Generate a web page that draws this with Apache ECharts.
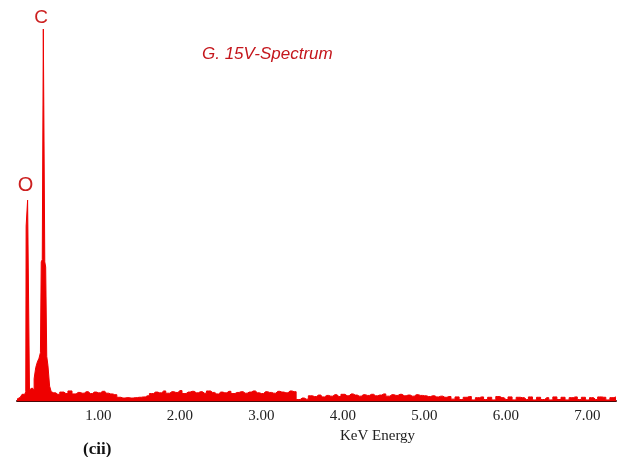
<!DOCTYPE html>
<html>
<head>
<meta charset="utf-8">
<script src="https://cdn.jsdelivr.net/npm/echarts@6/dist/echarts.min.js"></script>
<style>html,body{margin:0;padding:0;background:#fff;}#c{width:619px;height:457px;}</style>
</head>
<body>
<div id="c"></div>
<script>
// Peak region (keV, counts)
var peakEnergy = [0.00,0.04,0.085,0.105,0.110,0.114,0.128,0.132,0.150,0.156,0.17,0.20,0.22,0.24,0.26,0.28,0.295,0.300,0.32,0.326,0.338,0.344,0.36,0.37,0.39,0.41,0.43];
var peakCounts = [5,10,18,22,25,470,470,540,540,30,35,30,60,90,105,115,130,374,380,1000,1000,374,360,120,95,40,25];
// Background region (keV, counts)
var bgEnergy = [0.45,0.50,0.55,0.60,0.65,0.70,0.75,0.80,0.85,0.90,0.95,1.00,1.05,1.10,1.15,1.20,
  1.25,1.30,1.35,1.40,1.45,1.50,1.55,1.60,
  1.65,1.70,1.75,1.80,1.85,1.90,1.95,2.00,2.05,2.10,2.15,2.20,2.25,2.30,2.35,2.40,2.45,2.50,2.55,2.60,2.65,2.70,2.75,2.80,2.85,2.90,2.95,3.00,3.05,3.10,3.15,3.20,3.25,3.30,3.35,3.40,
  3.45,3.50,3.55,3.60,3.65,3.70,3.75,3.80,3.85,3.90,3.95,4.00,4.05,4.10,4.15,4.20,4.25,4.30,4.35,4.40,4.45,4.50,4.55,4.60,4.65,4.70,4.75,4.80,4.85,4.90,4.95,5.00,
  5.05,5.10,5.15,5.20,5.25,5.30,5.35,5.40,5.45,5.50,5.55,5.60,5.65,5.70,5.75,5.80,5.85,5.90,5.95,6.00,6.05,6.10,6.15,6.20,6.25,6.30,6.35,6.40,6.45,6.50,6.55,6.60,6.65,6.70,6.75,6.80,6.85,6.90,6.95,7.00,7.05,7.10,7.15,7.20,7.25,7.30,7.35];
var bgCounts = [22,18,24,20,27,19,23,21,25,20,24,22,26,21,19,17,
  10,8,9,8,9,10,11,14,
  20,24,22,27,21,25,23,28,20,24,26,22,25,21,27,23,19,24,22,26,20,23,25,21,24,27,22,20,25,23,21,26,24,22,27,25,
  4,8,5,14,12,16,11,15,13,17,12,18,14,19,16,13,17,15,18,14,16,19,13,17,15,18,14,16,13,17,15,14,
  12,14,11,13,10,12,5,11,4,10,12,3,9,11,4,10,3,12,9,4,11,3,10,9,4,11,3,10,4,9,3,11,4,10,3,9,11,4,10,3,9,4,11,10,3,9,11];
var tickValues = [1,2,3,4,5,6,7];
var tickLabels = ['1.00','2.00','3.00','4.00','5.00','6.00','7.00'];
var peakNames = ['C','O'];
var peakPos = [[0.332,1000],[0.141,540]];
var titleText = 'G. 15V-Spectrum';
var axisTitle = 'KeV Energy';
var panelTag = '(cii)';

var data = [];
for (var i = 0; i < peakEnergy.length; i++) data.push([peakEnergy[i], peakCounts[i]]);
for (var j = 0; j < bgEnergy.length; j++) data.push([bgEnergy[j], bgCounts[j]]);

var chart = echarts.init(document.getElementById('c'), null, {renderer:'canvas'});
chart.setOption({
  animation: false,
  backgroundColor: '#ffffff',
  grid: {left: 17, right: 0, top: 29, bottom: 56},
  xAxis: {
    type: 'value', min: 0, max: 7.35, interval: 1,
    axisLine: {show: true, lineStyle: {color: '#4a0808', width: 2}},
    axisTick: {show: false},
    splitLine: {show: false},
    axisLabel: {
      margin: 8, color: '#222', fontSize: 15, fontFamily: 'Liberation Serif',
      formatter: function (v) { var k = tickValues.indexOf(Math.round(v * 1000) / 1000); return k >= 0 ? tickLabels[k] : ''; }
    }
  },
  yAxis: {type: 'value', min: 0, max: 1000, show: false, splitLine: {show: false}},
  series: [{
    type: 'line', data: data, showSymbol: false, step: 'middle',
    lineStyle: {color: '#ee0000', width: 1},
    areaStyle: {color: '#ee0000', opacity: 1},
    markPoint: {
      symbol: 'circle', symbolSize: 1,
      itemStyle: {color: 'rgba(0,0,0,0)'},
      data: [
        {coord: peakPos[0], label: {show: true, formatter: peakNames[0], position: 'inside', offset: [-3, -11], color: '#cc1f1f', fontSize: 19, fontFamily: 'Liberation Sans'}},
        {coord: peakPos[1], label: {show: true, formatter: peakNames[1], position: 'inside', offset: [-3, -15], color: '#cc1f1f', fontSize: 20, fontFamily: 'Liberation Sans'}}
      ]
    }
  }],
  graphic: [
    {type: 'text', left: 202, top: 46, style: {text: titleText, fill: '#c4161c', font: 'italic 17px "Liberation Sans"'}},
    {type: 'text', left: 340, top: 429, style: {text: axisTitle, fill: '#222', font: '15px "Liberation Serif"'}},
    {type: 'text', left: 83, top: 441, style: {text: panelTag, fill: '#111', font: 'bold 17px "Liberation Serif"'}}
  ]
});
</script>
</body>
</html>
